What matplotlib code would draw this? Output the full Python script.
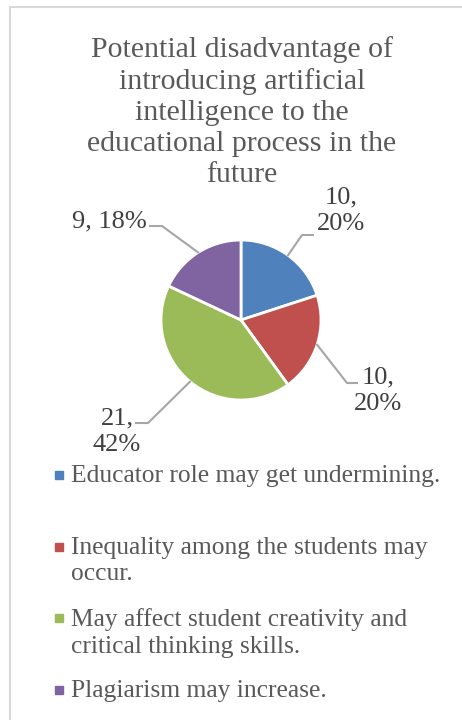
import textwrap
import matplotlib.pyplot as plt
from matplotlib.patches import Rectangle
from matplotlib.lines import Line2D
import numpy as np

title = ("Potential disadvantage of introducing artificial intelligence "
         "to the educational process in the future")
categories = [
    "Educator role may get undermining.",
    "Inequality among the students may occur.",
    "May affect student creativity and critical thinking skills.",
    "Plagiarism may increase.",
]
counts = [10, 10, 21, 9]
colors = ["#4F81BD", "#C0504D", "#9BBB59", "#8064A2"]

W, H = 462, 720
FONT = "Liberation Serif"


def fx(px):
    return px / W


def fy(py):
    # pixel rows are counted from the top
    return 1 - py / H


fig = plt.figure(figsize=(W / 100, H / 100), dpi=100)
fig.patch.set_facecolor("white")

# chart frame (only top and left edges are visible)
fig.patches.append(Rectangle((fx(10), -0.2), 1.5, fy(7) + 0.2,
                             transform=fig.transFigure, fill=False,
                             edgecolor="#D9D9D9", lw=1.5))

fig.text(fx(242), fy(112), textwrap.fill(title, 26), ha="center", va="center",
         fontsize=21.5, color="#595959", family=FONT, linespacing=1.25)

# pie
cx, cy, r = 241, 320, 80
ax = fig.add_axes([fx(cx - r), fy(cy + r), fx(2 * r), 2 * r / H])
wedges, _ = ax.pie(counts, colors=colors, startangle=90, counterclock=False,
                   radius=1, wedgeprops=dict(edgecolor="white", linewidth=2))
ax.set_xlim(-1, 1)
ax.set_ylim(-1, 1)
ax.axis("off")

total = sum(counts)
# label centre, elbow and stub end in pixels
label_layout = [
    dict(text=(341, 211), elbow=(302, 235), end=(313, 235), one_line=False),
    dict(text=(378, 391), elbow=(347, 383), end=(357, 383), one_line=False),
    dict(text=(117, 432), elbow=(148, 423), end=(136, 423), one_line=False),
    dict(text=(109, 221), elbow=(162, 226), end=(150, 226), one_line=True),
]
for w, n, lay in zip(wedges, counts, label_layout):
    mid = np.deg2rad((w.theta1 + w.theta2) / 2)
    sx = cx + r * np.cos(mid)
    sy = cy - r * np.sin(mid)
    xs = [fx(sx), fx(lay["elbow"][0]), fx(lay["end"][0])]
    ys = [fy(sy), fy(lay["elbow"][1]), fy(lay["end"][1])]
    fig.add_artist(Line2D(xs, ys, transform=fig.transFigure,
                          color="#A6A6A6", lw=1.5))
    pct = round(100 * n / total)
    sep = " " if lay["one_line"] else "\n"
    fig.text(fx(lay["text"][0]), fy(lay["text"][1]), f"{n},{sep}{pct}%",
             ha="center", va="center", fontsize=19, color="#404040",
             family=FONT, linespacing=1.25)

# legend
for i, (cat, col) in enumerate(zip(categories, colors)):
    yc = 475 + i * 71.7
    fig.patches.append(Rectangle((fx(55), fy(yc + 4)), fx(8), 8 / H,
                                 transform=fig.transFigure, color=col))
    fig.text(fx(71), fy(yc - 10), textwrap.fill(cat, 34), ha="left",
             va="top", fontsize=18.4, color="#595959", family=FONT,
             linespacing=1.25)

fig.savefig("out.png", dpi=100)
